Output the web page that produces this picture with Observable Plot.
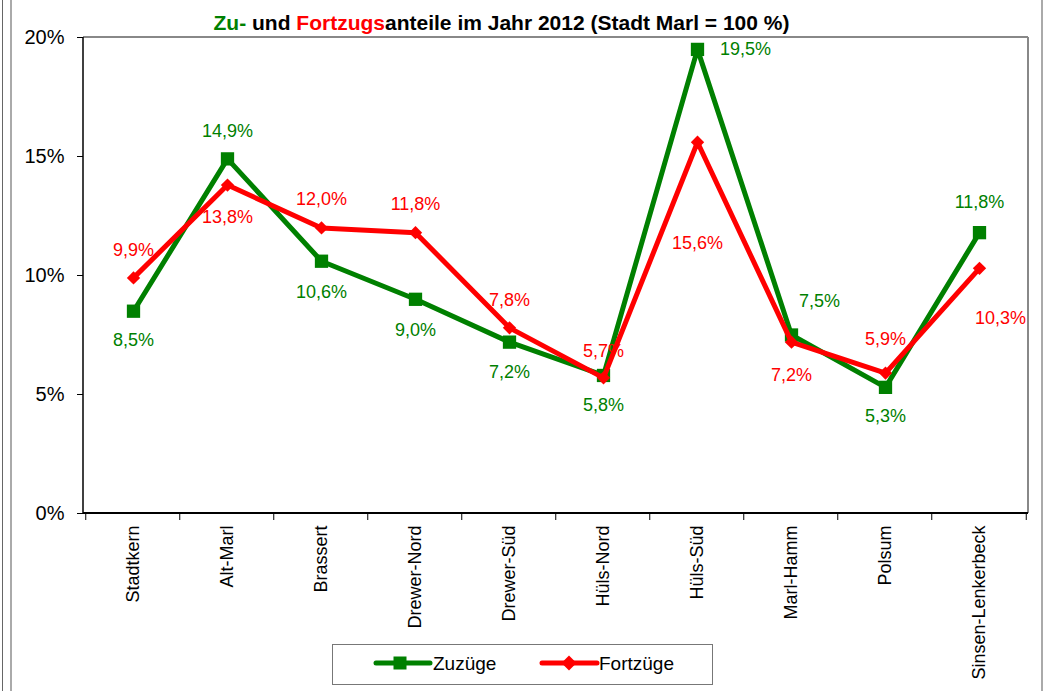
<!DOCTYPE html>
<html>
<head>
<meta charset="utf-8">
<script src="https://cdn.jsdelivr.net/npm/d3@7"></script>
<script src="https://cdn.jsdelivr.net/npm/@observablehq/plot@0.6"></script>
<style>
  html, body { margin: 0; padding: 0; background: #fff; }
  #wrap { position: relative; width: 1045px; height: 691px; overflow: hidden; font-family: "Liberation Sans", Arial, sans-serif; }
  #title { position: absolute; left: 0; top: 11px; width: 1003px; text-align: center; font-weight: bold; font-size: 21px; line-height: 24px; color: #000; white-space: nowrap; }
  #chart { position: absolute; left: 0; top: 30px; }
  #legend { position: absolute; left: 332px; top: 644px; width: 381px; height: 41px; box-sizing: border-box; border: 1.5px solid #777; background: #fff; }
  #legend svg { position: absolute; left: 0; top: 0; }
  .lg { position: absolute; top: 7px; font-size: 19px; line-height: 24px; color: #000; }
  .vline { position: absolute; top: 0; height: 691px; }
</style>
</head>
<body>
<div id="wrap">
  <div class="vline" style="left:2px;width:1px;background:#666"></div>
  <div class="vline" style="left:10px;width:2px;background:#aaa"></div>
  <div class="vline" style="left:1041px;width:2px;background:#aaa"></div>
  <div id="title"><span style="color:#008000">Zu-</span> und <span style="color:#ff0000">Fortzugs</span>anteile im Jahr 2012 (Stadt Marl = 100 %)</div>
  <div id="chart"></div>
  <div id="legend">
    <svg width="378" height="38">
      <line x1="43" x2="97" y1="18" y2="18" stroke="#008000" stroke-width="5" stroke-linecap="round"/>
      <rect x="60.5" y="11.5" width="13" height="13" fill="#008000"/>
      <line x1="209" x2="264" y1="18" y2="18" stroke="#ff0000" stroke-width="5" stroke-linecap="round"/>
      <path d="M236,10.5 L243.5,18 L236,25.5 L228.5,18 Z" fill="#ff0000"/>
    </svg>
    <div class="lg" style="left:100px">Zuzüge</div>
    <div class="lg" style="left:266px">Fortzüge</div>
  </div>
</div>
<script>
// ---- data ----
const categories = ["Stadtkern", "Alt-Marl", "Brassert", "Drewer-Nord", "Drewer-Süd", "Hüls-Nord", "Hüls-Süd", "Marl-Hamm", "Polsum", "Sinsen-Lenkerbeck"];
const zuzuege = [8.5, 14.9, 10.6, 9.0, 7.2, 5.8, 19.5, 7.5, 5.3, 11.8];
const fortzuege = [9.9, 13.8, 12.0, 11.8, 7.8, 5.7, 15.6, 7.2, 5.9, 10.3];
const yTicks = [0, 5, 10, 15, 20];
const seriesNames = ["Zuzüge", "Fortzüge"];

// label placement (offsets from the point, in px)
const zuLabelOffset = [[0,29],[0,-28],[0,31],[0,31],[0,30],[0,30],[48,0],[28,-34],[0,29],[0,-30]];
const fortLabelOffset = [[0,-28],[0,32],[0,-29],[0,-28],[0,-28],[0,-27],[0,101],[0,33],[0,-34],[21,50]];

const GREEN = "#008000", RED = "#ff0000";
const zuData = categories.map((c, i) => ({cat: c, value: zuzuege[i], series: seriesNames[0]}));
const fortData = categories.map((c, i) => ({cat: c, value: fortzuege[i], series: seriesNames[1]}));
const fmt = v => v.toFixed(1).replace(".", ",") + "%";

const NS = "http://www.w3.org/2000/svg";
function frameAndTicks(index, scales, values, dims) {
  const {width, height, marginLeft, marginRight, marginTop, marginBottom} = dims;
  const x0 = marginLeft, x1 = width - marginRight, y0 = marginTop, y1 = height - marginBottom;
  const n = categories.length;
  const step = (x1 - x0) / n;
  const g = document.createElementNS(NS, "g");
  const line = (a, b, c, d, stroke, sw) => {
    const l = document.createElementNS(NS, "line");
    l.setAttribute("x1", a); l.setAttribute("y1", b); l.setAttribute("x2", c); l.setAttribute("y2", d);
    l.setAttribute("stroke", stroke); l.setAttribute("stroke-width", sw);
    g.appendChild(l);
  };
  line(x0, y0, x1, y0, "#888", 2);
  line(x1, y0, x1, y1, "#888", 2);
  for (let i = 0; i <= n; i++) {
    const x = i < n ? scales.x(categories[i]) - step / 2 : scales.x(categories[n - 1]) + step / 2;
    line(x, y1, x, y1 + 7, "#000", 1);
  }
  line(x0, y0, x0, y1 + 1, "#000", 1.5);
  line(x0, y1, x1, y1, "#000", 2);
  return g;
}

const labelMarks = [];
zuData.forEach((d, i) => labelMarks.push(Plot.text([d], {x: "cat", y: "value", text: r => fmt(r.value), fill: GREEN, dx: zuLabelOffset[i][0], dy: zuLabelOffset[i][1], fontSize: 18})));
fortData.forEach((d, i) => labelMarks.push(Plot.text([d], {x: "cat", y: "value", text: r => fmt(r.value), fill: RED, dx: fortLabelOffset[i][0], dy: fortLabelOffset[i][1], fontSize: 18})));

const chart = Plot.plot({
  width: 1045,
  height: 613,
  marginLeft: 83,
  marginRight: 17,
  marginTop: 7,
  marginBottom: 130,
  style: {fontFamily: "'Liberation Sans', Arial, sans-serif", background: "transparent", color: "#000", overflow: "visible"},
  x: {type: "point", domain: categories, padding: 0.5},
  y: {domain: [0, 20]},
  marks: [
    Plot.axisY({ticks: yTicks, tickFormat: d => d + "%", tickSize: 6, tickPadding: 13, fontSize: 20, label: null, stroke: "#000"}),
    Plot.axisX({tickSize: 0, tickPadding: 12, tickRotate: -90, textAnchor: "end", fontSize: 18, label: null}),
    frameAndTicks,
    Plot.line(zuData, {x: "cat", y: "value", stroke: GREEN, strokeWidth: 5, strokeLinejoin: "round"}),
    Plot.dot(zuData, {x: "cat", y: "value", symbol: "square", r: 7.5, fill: GREEN, stroke: "none"}),
    Plot.line(fortData, {x: "cat", y: "value", stroke: RED, strokeWidth: 5, strokeLinejoin: "round"}),
    Plot.dot(fortData, {x: "cat", y: "value", symbol: "diamond2", r: 6, fill: RED, stroke: "none"}),
    ...labelMarks
  ]
});
document.getElementById("chart").appendChild(chart);
</script>
</body>
</html>
